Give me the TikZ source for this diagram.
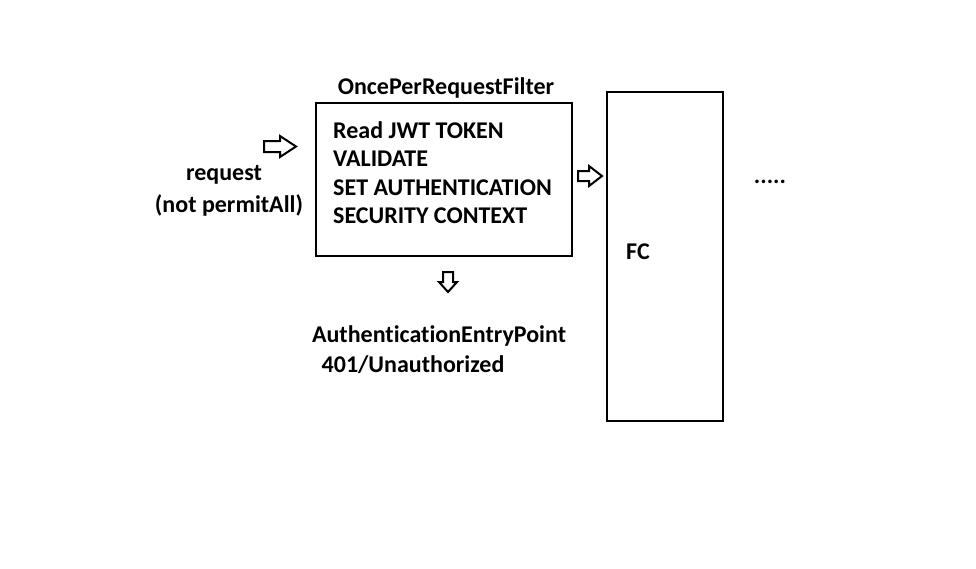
\documentclass[tikz,border=0pt]{standalone}
\usepackage{fontspec}
\setmainfont[Ligatures={NoCommon,NoContextual}]{Carlito}
\begin{document}
\begin{tikzpicture}[x=1pt,y=-1pt,
  lbl/.style={font=\bfseries\fontsize{24}{28}\selectfont, inner sep=0pt},
  boxline/.style={draw=black, line width=2pt},
  blk/.style={draw=black, line width=2pt, line join=miter, fill=white}]
\useasboundingbox (0,0) rectangle (976,568);
\fill[white] (0,0) rectangle (976,568);
% filter box
\node[boxline, minimum width=256pt, minimum height=153pt, inner sep=0pt, anchor=north west] (filter) at (315,102) {};
\node[lbl] (title) at (446,88) {OncePerRequestFilter};
\node[lbl, anchor=west] (l1) at (333,130) {Read JWT TOKEN};
\node[lbl, anchor=west] (l2) at (333,159) {VALIDATE};
\node[lbl, anchor=west] (l3) at (333,188) {SET AUTHENTICATION};
\node[lbl, anchor=west] (l4) at (333,216) {SECURITY CONTEXT};
% FC box
\node[boxline, minimum width=116pt, minimum height=329pt, inner sep=0pt, anchor=north west] (fc) at (606,91) {};
\node[lbl] (fclbl) at (638,252) {FC};
% request
\node[lbl] (req) at (224,175) {request};
\node[lbl] (notp) at (229,205) {(not permitAll)};
% entry point
\node[lbl] (aep) at (439,336) {AuthenticationEntryPoint};
\node[lbl] (unauth) at (413,365) {401/Unauthorized};
\node[lbl] (dots) at (770,182) {.....};
% block arrows
\draw[blk] (264,141) -- (280,141) -- (280,136) -- (296,146.5) -- (280,157) -- (280,152) -- (264,152) -- cycle;
\draw[blk] (578,171) -- (589,171) -- (589,166) -- (602,176) -- (589,186) -- (589,181) -- (578,181) -- cycle;
\draw[blk] (443,272) -- (453,272) -- (453,282) -- (457,282) -- (448,292) -- (439,282) -- (443,282) -- cycle;
\end{tikzpicture}
\end{document}
